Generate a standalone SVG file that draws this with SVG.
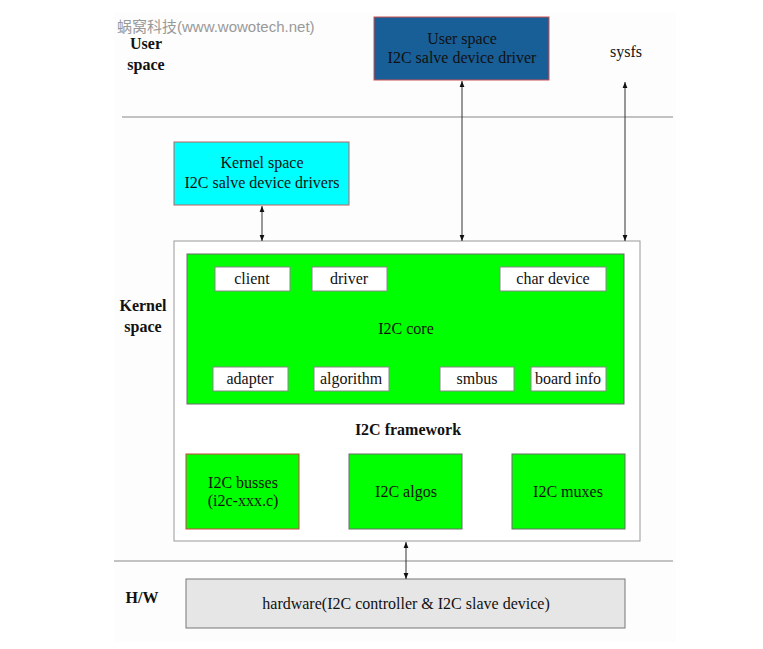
<svg xmlns="http://www.w3.org/2000/svg" width="763" height="649" viewBox="0 0 763 649">
<defs>
<marker id="ah" viewBox="0 0 10 10" refX="10" refY="5" markerWidth="6" markerHeight="6" orient="auto-start-reverse" markerUnits="userSpaceOnUse">
<path d="M0,1 L10,5 L0,9 z" fill="#111"/>
</marker>
<style>
.t{font-family:"Liberation Serif","Times New Roman",serif;font-size:16px;fill:#111;text-anchor:middle}
.b{font-family:"Liberation Serif","Times New Roman",serif;font-size:16px;font-weight:bold;fill:#111;text-anchor:middle}
.sm{fill:#fff;stroke:#888;stroke-width:1}
.gr{fill:#00ff00;stroke:#6a6a6a;stroke-width:1}
.sep{stroke:#888;stroke-width:1.2}
.c{stroke:#333;stroke-width:1;fill:none;marker-end:url(#ah);marker-start:url(#ah)}
</style>
</defs>
<rect x="0" y="0" width="763" height="649" fill="#fff"/>
<rect x="114" y="12" width="562" height="630" fill="#fdfdfd"/>
<text x="117" y="32" style="font-family:'Liberation Sans','Noto Sans CJK SC',sans-serif;font-size:15px;fill:#999">蜗窝科技(www.wowotech.net)</text>
<g id="labels">
<text class="b" x="146" y="49">User</text>
<text class="b" x="146" y="70">space</text>
<text class="b" x="143" y="311">Kernel</text>
<text class="b" x="143" y="332">space</text>
<text class="b" x="142" y="603">H/W</text>
</g>
<line class="sep" x1="122" y1="117" x2="673" y2="117"/>
<line class="sep" x1="114" y1="561" x2="673" y2="561"/>
<g id="user-driver">
<rect x="374" y="17" width="175" height="63" fill="#185e97" stroke="#d05050" stroke-width="1"/>
<text class="t" x="462" y="44">User space</text>
<text class="t" x="462" y="63">I2C salve device driver</text>
</g>
<g id="sysfs"><text class="t" x="626" y="57">sysfs</text></g>
<g id="kernel-drivers">
<rect x="174" y="142" width="175" height="63" fill="#00ffff" stroke="#c06060" stroke-width="1"/>
<text class="t" x="262" y="168">Kernel space</text>
<text class="t" x="262" y="188">I2C salve device drivers</text>
</g>
<g id="framework">
<rect x="174" y="241" width="466" height="300" fill="#fff" stroke="#999" stroke-width="1"/>
<text class="b" x="408" y="435">I2C framework</text>
</g>
<g id="core">
<rect x="187" y="254" width="437" height="150" class="gr"/>
<text class="t" x="406" y="334">I2C core</text>
</g>
<g id="client"><rect class="sm" x="215" y="267" width="75" height="24"/><text class="t" x="252" y="284">client</text></g>
<g id="driver"><rect class="sm" x="312" y="267" width="75" height="24"/><text class="t" x="349" y="284">driver</text></g>
<g id="chardev"><rect class="sm" x="500" y="267" width="106" height="24"/><text class="t" x="553" y="284">char device</text></g>
<g id="adapter"><rect class="sm" x="213" y="367" width="75" height="24"/><text class="t" x="250" y="384">adapter</text></g>
<g id="algorithm"><rect class="sm" x="314" y="367" width="75" height="24"/><text class="t" x="351" y="384">algorithm</text></g>
<g id="smbus"><rect class="sm" x="440" y="367" width="74" height="24"/><text class="t" x="477" y="384">smbus</text></g>
<g id="boardinfo"><rect class="sm" x="531" y="367" width="75" height="24"/><text class="t" x="568" y="384">board info</text></g>
<g id="busses"><rect x="186" y="454" width="113" height="75" fill="#00ff00" stroke="#d04040" stroke-width="1"/><text class="t" x="243" y="488">I2C busses</text><text class="t" x="243" y="506">(i2c-xxx.c)</text></g>
<g id="algos"><rect class="gr" x="349" y="454" width="113" height="75"/><text class="t" x="406" y="497">I2C algos</text></g>
<g id="muxes"><rect class="gr" x="512" y="454" width="113" height="75"/><text class="t" x="568" y="497">I2C muxes</text></g>
<g id="hardware"><rect x="186" y="579" width="439" height="49" fill="#e6e6e6" stroke="#777" stroke-width="1"/><text class="t" x="406" y="609">hardware(I2C controller &amp; I2C slave device)</text></g>
<g id="connectors">
<line class="c" x1="462" y1="81" x2="462" y2="241"/>
<line class="c" x1="625" y1="82" x2="625" y2="241"/>
<line class="c" x1="262" y1="206" x2="262" y2="241"/>
<line class="c" x1="406" y1="542" x2="406" y2="579"/>
</g>
</svg>
